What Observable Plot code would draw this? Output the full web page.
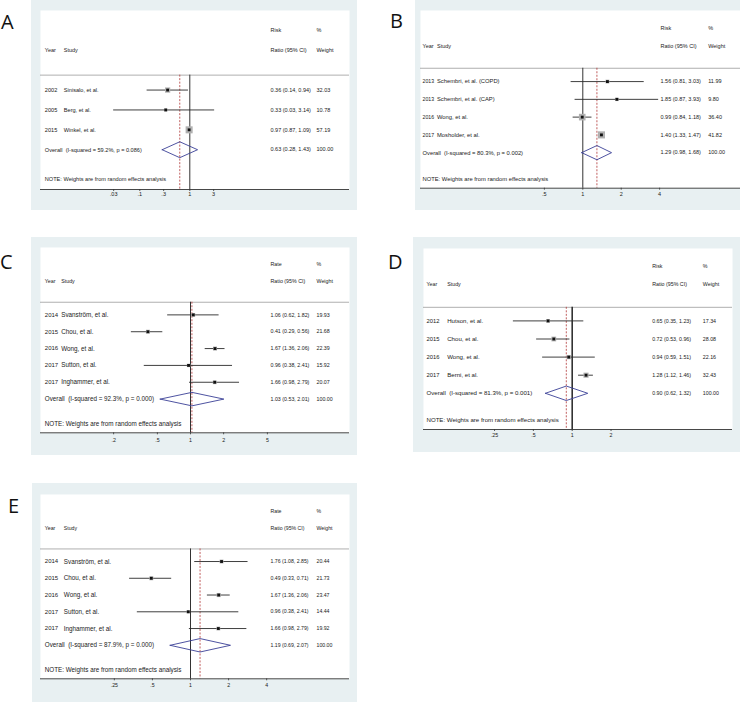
<!DOCTYPE html>
<html><head><meta charset="utf-8">
<script src="https://cdn.jsdelivr.net/npm/d3@7"></script>
<script src="https://cdn.jsdelivr.net/npm/@observablehq/plot@0.6"></script>
<style>
body{margin:0;background:#fff;}
#root{position:relative;width:740px;height:702px;overflow:hidden;background:#fff;}
.panel{position:absolute;}
.panel svg{display:block;}
.letter{position:absolute;font-family:'Open Sans',sans-serif;font-size:20px;line-height:20px;color:#111;}
</style></head>
<body><div id="root"></div>
<script>
// ---- Panel A ----
const yearsA = [2002, 2005, 2015];
const studiesA = ["Sinisalo, et al.", "Berg, et al.", "Winkel, et al."];
const rrA = [0.36, 0.33, 0.97];
const lowA = [0.14, 0.03, 0.87];
const highA = [0.94, 3.14, 1.09];
const weightA = [32.03, 10.78, 57.19];
const overallA = [0.63, 0.28, 1.43];
const hetA = ["59.2%", "0.086"];
const ticksA = [0.03, 0.1, 0.3, 1, 3];

// ---- Panel B ----
const yearsB = [2013, 2013, 2016, 2017];
const studiesB = ["Schembri, et al. (COPD)", "Schembri, et al. (CAP)", "Wong, et al.", "Mosholder, et al."];
const rrB = [1.56, 1.85, 0.99, 1.40];
const lowB = [0.81, 0.87, 0.84, 1.33];
const highB = [3.03, 3.93, 1.18, 1.47];
const weightB = [11.99, 9.80, 36.40, 41.82];
const overallB = [1.29, 0.98, 1.68];
const hetB = ["80.3%", "0.002"];
const ticksB = [0.5, 1, 2, 4];

// ---- Panel C ----
const yearsC = [2014, 2015, 2016, 2017, 2017];
const studiesC = ["Svanström, et al.", "Chou, et al.", "Wong, et al.", "Sutton, et al.", "Inghammer, et al."];
const rrC = [1.06, 0.41, 1.67, 0.96, 1.66];
const lowC = [0.62, 0.29, 1.36, 0.38, 0.98];
const highC = [1.82, 0.56, 2.06, 2.41, 2.79];
const weightC = [19.93, 21.68, 22.39, 15.92, 20.07];
const overallC = [1.03, 0.53, 2.01];
const hetC = ["92.3%", "0.000"];
const ticksC = [0.2, 0.5, 1, 2, 5];

// ---- Panel D ----
const yearsD = [2012, 2015, 2016, 2017];
const studiesD = ["Hutson, et al.", "Chou, et al.", "Wong, et al.", "Berni, et al."];
const rrD = [0.65, 0.72, 0.94, 1.28];
const lowD = [0.35, 0.53, 0.59, 1.12];
const highD = [1.23, 0.96, 1.51, 1.46];
const weightD = [17.34, 28.08, 22.16, 32.43];
const overallD = [0.90, 0.62, 1.32];
const hetD = ["81.3%", "0.001"];
const ticksD = [0.25, 0.5, 1, 2];

// ---- Panel E ----
const yearsE = [2014, 2015, 2016, 2017, 2017];
const studiesE = ["Svanström, et al.", "Chou, et al.", "Wong, et al.", "Sutton, et al.", "Inghammer, et al."];
const rrE = [1.76, 0.49, 1.67, 0.96, 1.66];
const lowE = [1.08, 0.33, 1.36, 0.38, 0.98];
const highE = [2.85, 0.71, 2.06, 2.41, 2.79];
const weightE = [20.44, 21.73, 23.47, 14.44, 19.92];
const overallE = [1.19, 0.69, 2.07];
const hetE = ["87.9%", "0.000"];
const ticksE = [0.25, 0.5, 1, 2, 4];

const measures = {A: "Risk", B: "Risk", C: "Rate", D: "Risk", E: "Rate"};
const noteText = "NOTE: Weights are from random effects analysis";

const panelData = {
  A: {years: yearsA, studies: studiesA, est: rrA, low: lowA, high: highA, weight: weightA, overall: overallA, het: hetA, ticks: ticksA},
  B: {years: yearsB, studies: studiesB, est: rrB, low: lowB, high: highB, weight: weightB, overall: overallB, het: hetB, ticks: ticksB},
  C: {years: yearsC, studies: studiesC, est: rrC, low: lowC, high: highC, weight: weightC, overall: overallC, het: hetC, ticks: ticksC},
  D: {years: yearsD, studies: studiesD, est: rrD, low: lowD, high: highD, weight: weightD, overall: overallD, het: hetD, ticks: ticksD},
  E: {years: yearsE, studies: studiesE, est: rrE, low: lowE, high: highE, weight: weightE, overall: overallE, het: hetE, ticks: ticksE}
};

// layout (pixels)
const layouts = {
  A: {left:31, top:0, w:326, h:210, ml:9, mr:8, mt:10, mb:21, one:158.3, dec:50, cols:[4.3,23.3,230,276], fsY:5.6, fsL:5.6, fsR:5.5, k:0.93, tdy:2.5, refW:1},
  B: {left:415, top:0, w:325, h:210, ml:5, mr:0, mt:10, mb:22.3, one:167.3, dec:127.6, cols:[2,16.5,240,287.7], fsY:5.2, fsL:5.8, fsR:5.5, k:1.1, tdy:4.3, refW:1},
  C: {left:31, top:237, w:326, h:218, ml:9, mr:8, mt:10, mb:22.7, one:159, dec:110, cols:[4.3,20.7,230,276], fsY:6.0, fsL:6.3, fsR:5.3, k:0.85, tdy:5.1, refW:1},
  D: {left:413, top:237, w:327, h:215, ml:10, mr:8, mt:11, mb:23, one:158.7, dec:129, cols:[3,23.7,228.7,279.3], fsY:5.8, fsL:6.1, fsR:5.3, k:0.9, tdy:4.1, refW:1.6},
  E: {left:32, top:483, w:325, h:219, ml:8, mr:8, mt:11, mb:23.7, one:158, dec:126.5, cols:[4.3,23.3,230,276], fsY:6.0, fsL:6.3, fsR:5.2, k:0.85, tdy:4.8, refW:1}
};
const letterPos = {A:[1,11.7], B:[390,10.7], C:[0,252.2], D:[388,251.5], E:[8,495.7]};

const font = "'Liberation Sans', Arial, Helvetica, sans-serif";
const f2 = v => v.toFixed(2);
const ciText = (e, l, h) => `${f2(e)} (${f2(l)}, ${f2(h)})`;
const tickFmt = v => v < 1 ? String(v).replace(/^0/, "") : String(v);

function forest(key) {
  const p = panelData[key], L = layouts[key];
  const n = p.years.length;
  const rows = p.years.map((yr, i) => ({
    row: i + 1, year: String(yr), study: p.studies[i],
    est: p.est[i], lo: p.low[i], hi: p.high[i], w: p.weight[i],
    ci: ciText(p.est[i], p.low[i], p.high[i]), wt: f2(p.weight[i])
  }));
  const [oe, ol, oh] = p.overall;
  const ov = {row: n + 1, label: `Overall\u00a0\u00a0(I-squared = ${p.het[0]}, p = ${p.het[1]})`,
    ci: ciText(oe, ol, oh), wt: f2(100)};
  const table = rows.concat([ov]);
  const diamond = [[ol, 0], [oe, -0.4], [oh, 0], [oe, 0.4], [ol, 0]].map(([x, dy]) => ({x, y: ov.row + dy}));
  const yAxis = n + 3, yLine = 0.25;
  const unitPx = (L.h - L.mb - L.mt) / (yAxis + 3);
  const tickLen = 2 / unitPx;
  const [cY, cS, cR, cW] = L.cols;
  const T = (data, opts) => Plot.text(data, {frameAnchor: "left", textAnchor: "start", fill: "#1a1a1a", fontFamily: font, ...opts});
  const hdr = (row, t, dx) => T([{row, t}], {y: "row", text: "t", dx, fontSize: L.fsR});
  const dom = [p.ticks[0], p.ticks[p.ticks.length - 1]];
  return Plot.plot({
    width: L.w, height: L.h,
    marginLeft: L.ml, marginRight: L.mr, marginTop: L.mt, marginBottom: L.mb,
    style: {background: "#e8f0f2", fontFamily: font, color: "#1a1a1a", overflow: "visible"},
    x: {type: "log", domain: dom, range: dom.map(v => L.one + L.dec * Math.log10(v)), label: null, axis: null},
    y: {domain: [-3, yAxis], range: [L.mt, L.h - L.mb], axis: null},
    r: {type: "identity"},
    marks: [
      Plot.frame({fill: "white", stroke: "none"}),
      Plot.ruleY([yLine], {stroke: "#9a9a9a", strokeWidth: 0.8}),
      Plot.ruleX([1], {y1: yLine, y2: yAxis, stroke: "#333", strokeWidth: L.refW}),
      Plot.ruleX([oe], {y1: yLine, y2: yAxis, stroke: "#b03535", strokeWidth: 0.8, strokeDasharray: "2,1.5"}),
      Plot.ruleY(rows, {y: "row", x1: "lo", x2: "hi", stroke: "#2a2a2a", strokeWidth: 0.9}),
      Plot.dot(rows, {x: "est", y: "row", r: d => L.k * Math.sqrt(d.w) / Math.sqrt(Math.PI), symbol: "square", fill: "#b0b0b0"}),
      Plot.dot(rows, {x: "est", y: "row", r: 1.6, symbol: "square", fill: "#111"}),
      Plot.line(diamond, {x: "x", y: "y", stroke: "#3a3f96", strokeWidth: 0.9}),
      Plot.ruleY([yAxis], {stroke: "#333", strokeWidth: 0.9}),
      Plot.ruleX(p.ticks, {y1: yAxis, y2: yAxis + tickLen, stroke: "#333", strokeWidth: 0.8}),
      Plot.text(p.ticks, {x: d => d, frameAnchor: "bottom", lineAnchor: "top", dy: L.tdy, text: tickFmt, fontSize: L.fsR, fill: "#1a1a1a", fontFamily: font}),
      hdr(-2, measures[key], cR),
      hdr(-2, "%", cW),
      hdr(-1, "Year", cY),
      hdr(-1, "Study", cS),
      hdr(-1, "Ratio (95% CI)", cR),
      hdr(-1, "Weight", cW),
      T(rows, {y: "row", text: "year", dx: cY, fontSize: L.fsY}),
      T(rows, {y: "row", text: "study", dx: cS, fontSize: L.fsL}),
      T([ov], {y: "row", text: "label", dx: cY, fontSize: L.fsL}),
      T(table, {y: "row", text: "ci", dx: cR, fontSize: L.fsR}),
      T(table, {y: "row", text: "wt", dx: cW, fontSize: L.fsR}),
      T([{row: n + 2.5, t: noteText}], {y: "row", text: "t", dx: cY, fontSize: L.fsL})
    ]
  });
}

const root = document.getElementById("root");
for (const key of ["A", "B", "C", "D", "E"]) {
  const L = layouts[key];
  const div = document.createElement("div");
  div.className = "panel";
  div.style.left = L.left + "px";
  div.style.top = L.top + "px";
  div.appendChild(forest(key));
  root.appendChild(div);
  const lab = document.createElement("div");
  lab.className = "letter";
  lab.textContent = key;
  lab.style.left = letterPos[key][0] + "px";
  lab.style.top = letterPos[key][1] + "px";
  root.appendChild(lab);
}
</script>
</body></html>
